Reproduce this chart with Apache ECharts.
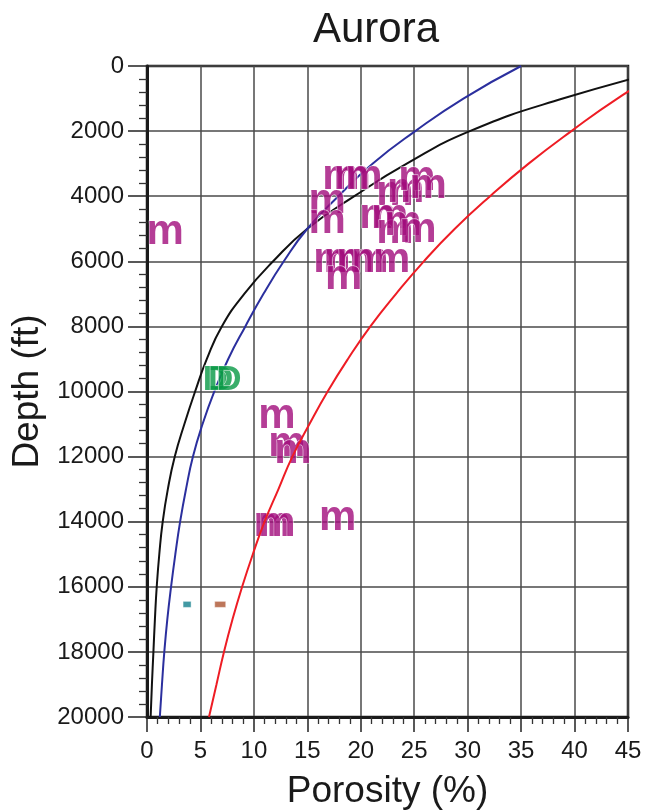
<!DOCTYPE html>
<html>
<head>
<meta charset="utf-8">
<script src="https://cdn.jsdelivr.net/npm/echarts@6/dist/echarts.min.js"></script>
<style>html,body{margin:0;padding:0;background:#fff}#c{width:646px;height:811px}</style>
</head>
<body>
<div id="c"></div>
<script>
// ---- data ----
const porosityTicks = [0, 5, 10, 15, 20, 25, 30, 35, 40, 45];
const depthTicks = [0, 2000, 4000, 6000, 8000, 10000, 12000, 14000, 16000, 18000, 20000];

const curveDepths = [0,1000,2000,3000,4000,5000,6000,7000,8000,9000,10000,11000,12000,13000,14000,15000,16000,17000,18000,19000,20000];
const blackPorosity = [50.0,38.9,30.2,24.3,19.4,15.0,11.8,9.1,7.0,5.6,4.5,3.5,2.6,1.95,1.47,1.15,0.91,0.74,0.6,0.46,0.34];
const bluePorosity  = [35.0,29.6,25.1,21.1,17.9,15.0,12.8,10.9,9.2,7.6,6.3,5.2,4.3,3.65,3.1,2.65,2.25,1.9,1.62,1.4,1.2];
const redPorosity   = [49.0,44.0,39.7,35.7,32.1,28.8,25.9,23.3,20.9,18.8,16.9,15.2,13.6,12.3,11.0,9.9,8.9,8.0,7.2,6.5,5.8];

// "m" samples [porosity %, depth ft]
const mSamples = [
  [1.7,5070],
  [18.15,3380],[19.2,3380],[20.3,3380],
  [23.2,3870],[24.2,3780],[25.25,3410],[26.3,3660],
  [16.85,4120],[16.85,4730],
  [21.6,4580],[22.7,4580],
  [23.2,5040],[23.95,4800],[25.35,5010],
  [17.3,5930],[18.25,5930],[19.45,5930],[20.85,5930],[22.9,5930],
  [18.4,6455],
  [12.15,10730],[13.1,11590],[13.65,11800],
  [11.7,14050],[12.15,14050],[17.85,13860]
];
// "D" samples
const dSamples = [[6.4,9560],[6.9,9560],[7.65,9560]];
// small square samples
const tealSamples = [[3.75,16540]];
const brownSamples = [[6.85,16540]];

// ---- chart ----
const FONT = 'Liberation Sans, Arial, Helvetica, sans-serif';
const zip = (d, p) => d.map((z, i) => [p[i], z]);

const chart = echarts.init(document.getElementById('c'), null, {renderer: 'canvas'});

const textLabel = (txt, color, size, dy) => ({
  show: true, position: 'inside', formatter: txt,
  color: color, fontSize: size, fontFamily: FONT, fontWeight: 'bold',
  textBorderColor: '#fff', textBorderWidth: 1,
  offset: [0, dy]
});

chart.setOption({
  animation: false,
  backgroundColor: '#fff',
  title: {
    text: 'Aurora', left: 371, top: 4, textAlign: 'center',
    textStyle: {fontSize: 42, fontWeight: 'normal', color: '#1a1a1a', fontFamily: FONT}
  },
  grid: {left: 147, right: 18, top: 66, bottom: 94, outerBoundsMode: 'none', containLabel: false,
    show: true, borderColor: '#1a1a1a', borderWidth: 2.5, backgroundColor: 'transparent'},
  xAxis: {
    type: 'value',
    min: porosityTicks[0], max: porosityTicks[porosityTicks.length - 1], interval: porosityTicks[1] - porosityTicks[0],
    name: 'Porosity (%)', nameLocation: 'middle', nameGap: 56,
    nameTextStyle: {fontSize: 37, color: '#1a1a1a', fontFamily: FONT},
    axisLine: {show: true, onZero: false, lineStyle: {color: '#1a1a1a', width: 3}},
    axisTick: {show: true, inside: false, length: 15, lineStyle: {color: '#222', width: 1.5}},
    minorTick: {show: true, splitNumber: 5, length: 7, lineStyle: {color: '#333', width: 1.3}},
    axisLabel: {fontSize: 24, color: '#1a1a1a', fontFamily: FONT, margin: 22, formatter: v => String(v)},
    splitLine: {show: true, lineStyle: {color: '#4a4a4a', width: 1.5}}
  },
  yAxis: {
    type: 'value', inverse: true,
    min: depthTicks[0], max: depthTicks[depthTicks.length - 1], interval: depthTicks[1] - depthTicks[0],
    name: 'Depth (ft)', nameLocation: 'middle', nameGap: 100,
    nameTextStyle: {fontSize: 37, color: '#1a1a1a', fontFamily: FONT},
    axisLine: {show: true, onZero: false, lineStyle: {color: '#1a1a1a', width: 3}},
    axisTick: {show: true, inside: false, length: 19, lineStyle: {color: '#222', width: 1.5}},
    minorTick: {show: true, splitNumber: 5, length: 8, lineStyle: {color: '#333', width: 1.3}},
    axisLabel: {fontSize: 24, color: '#1a1a1a', fontFamily: FONT, margin: 23, formatter: v => String(v)},
    splitLine: {show: true, lineStyle: {color: '#4a4a4a', width: 1.5}}
  },
  series: [
    {type: 'line', data: zip(curveDepths, blackPorosity), smooth: 0.5, showSymbol: false, symbol: 'none', z: 2,
      lineStyle: {color: '#111111', width: 2}},
    {type: 'line', data: zip(curveDepths, bluePorosity), smooth: 0.5, showSymbol: false, symbol: 'none', z: 2,
      lineStyle: {color: '#2b2f9e', width: 2}},
    {type: 'scatter', data: mSamples, symbolSize: 1, itemStyle: {color: 'rgba(0,0,0,0)'}, z: 3,
      label: textLabel('m', '#a10c7c', 42, 1)},
    {type: 'scatter', data: dSamples, symbolSize: 1, itemStyle: {color: 'rgba(0,0,0,0)'}, z: 3,
      label: textLabel('D', '#079845', 35, 3)},
    {type: 'line', data: zip(curveDepths, redPorosity), smooth: 0.5, showSymbol: false, symbol: 'none', z: 4,
      lineStyle: {color: '#ee1c24', width: 2}},
    {type: 'scatter', data: tealSamples, symbol: 'rect', symbolSize: [8, 6], z: 5,
      itemStyle: {color: '#13808c', borderColor: '#fff', borderWidth: 0.5}},
    {type: 'scatter', data: brownSamples, symbol: 'rect', symbolSize: [11, 6], z: 5,
      itemStyle: {color: '#ad5431', borderColor: '#fff', borderWidth: 0.5}}
  ]
});
</script>
</body>
</html>
